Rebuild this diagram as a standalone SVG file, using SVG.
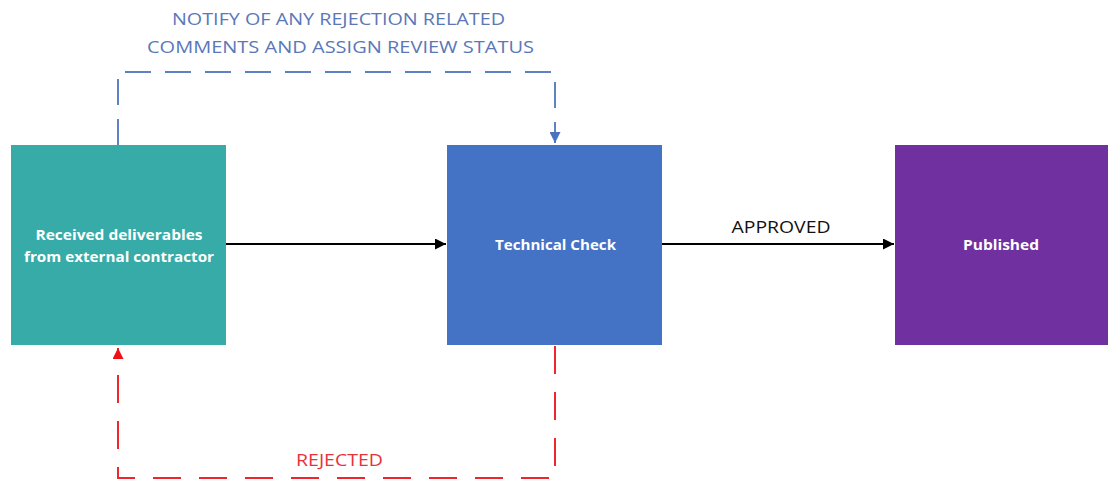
<svg xmlns="http://www.w3.org/2000/svg" width="1111" height="487" viewBox="0 0 1111 487">
  <style>
    .node-text { font-family: "Open Sans", "Liberation Sans", sans-serif; font-size: 14.5px; font-weight: bold; fill: #ffffff; text-anchor: middle; }
    .label { font-family: "Open Sans", "Liberation Sans", sans-serif; font-size: 17px; text-anchor: middle; }
    .solid { stroke: #000000; stroke-width: 2; fill: none; }
    .dash-blue { stroke: #5f82c4; stroke-width: 2; fill: none; stroke-dasharray: 26 14; }
    .dash-red { stroke: #f0252e; stroke-width: 2; fill: none; stroke-dasharray: 28 18; }
  </style>
  <defs>
    <marker id="arrow-black" viewBox="0 0 10 10" refX="10" refY="5" markerWidth="12" markerHeight="11" markerUnits="userSpaceOnUse" orient="auto">
      <path d="M0,0 L10,5 L0,10 z" fill="#000000"/>
    </marker>
    <marker id="arrow-blue" viewBox="0 0 10 10" refX="10" refY="5" markerWidth="12" markerHeight="11" markerUnits="userSpaceOnUse" orient="auto">
      <path d="M0,0 L10,5 L0,10 z" fill="#4a72bf"/>
    </marker>
    <marker id="arrow-red" viewBox="0 0 10 10" refX="10" refY="5" markerWidth="12" markerHeight="11" markerUnits="userSpaceOnUse" orient="auto">
      <path d="M0,0 L10,5 L0,10 z" fill="#f01018"/>
    </marker>
  </defs>
  <rect width="1111" height="487" fill="#ffffff"/>

  <g id="connectors">
    <line class="solid" x1="226" y1="244" x2="446" y2="244" marker-end="url(#arrow-black)"/>
    <line class="solid" x1="662" y1="244" x2="894" y2="244" marker-end="url(#arrow-black)"/>
    <path class="dash-blue" d="M118,145 V72 H555 V143" marker-end="url(#arrow-blue)"/>
    <path class="dash-red" d="M555,346 V478 H118 V348" marker-end="url(#arrow-red)"/>
    <text class="label" x="781" y="233" fill="#111111" textLength="99" lengthAdjust="spacingAndGlyphs">APPROVED</text>
    <text class="label" x="339.5" y="466" fill="#e8323a" textLength="87" lengthAdjust="spacingAndGlyphs">REJECTED</text>
    <text class="label" x="338.5" y="25" fill="#5a78b8" textLength="333" lengthAdjust="spacingAndGlyphs">NOTIFY OF ANY REJECTION RELATED</text>
    <text class="label" x="340.5" y="53" fill="#5a78b8" textLength="387" lengthAdjust="spacingAndGlyphs">COMMENTS AND ASSIGN REVIEW STATUS</text>
  </g>

  <g id="node-received">
    <rect x="11" y="145" width="215" height="200" fill="#36aba8"/>
    <text class="node-text" x="119" y="240" textLength="167" lengthAdjust="spacingAndGlyphs">Received deliverables</text>
    <text class="node-text" x="119" y="262" textLength="190" lengthAdjust="spacingAndGlyphs">from external contractor</text>
  </g>

  <g id="node-technical-check">
    <rect x="447" y="145" width="215" height="200" fill="#4472c4"/>
    <text class="node-text" x="555.5" y="250" textLength="121" lengthAdjust="spacingAndGlyphs">Technical Check</text>
  </g>

  <g id="node-published">
    <rect x="895" y="145" width="213" height="200" fill="#7030a0"/>
    <text class="node-text" x="1001" y="250" textLength="76" lengthAdjust="spacingAndGlyphs">Published</text>
  </g>
</svg>
